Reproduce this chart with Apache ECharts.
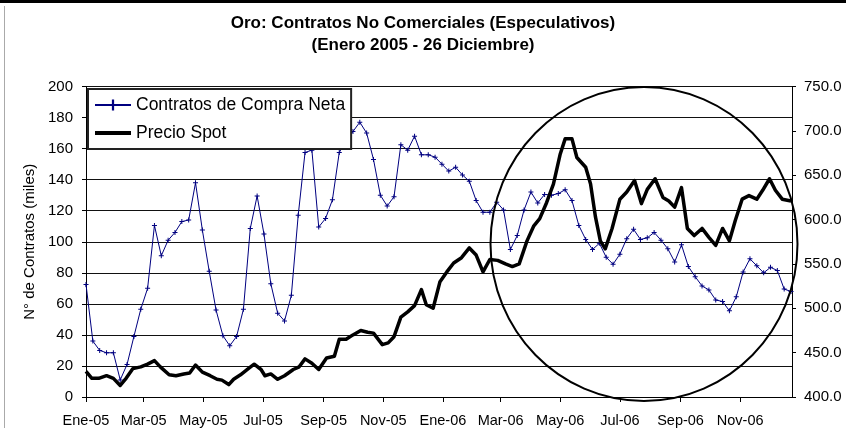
<!DOCTYPE html>
<html>
<head>
<meta charset="utf-8">
<script src="https://cdn.jsdelivr.net/npm/echarts@6/dist/echarts.min.js"></script>
<style>
  html, body { margin: 0; padding: 0; background: #fff; }
  #chart { width: 846px; height: 428px; }
</style>
</head>
<body>
<div id="chart"></div>
<script>
// weekly net long positions (thousands of contracts), one value per week from Jan-05
const compraNeta = [72.5, 36, 30, 28.5, 28.5, 11, 21, 39, 56.5, 70,
  110.5, 91, 101, 106, 113, 114, 138, 107.5, 81, 56,
  39.5, 33, 39, 56.5, 108.5, 129.5, 105, 73, 54, 49,
  65.5, 117, 157.5, 159, 109.5, 115, 127, 157.5, 165, 171,
  177, 170, 153, 130, 123, 129, 162.5, 159, 168, 156,
  156, 154.5, 150, 145.5, 148, 143, 139, 126.5, 119, 119,
  125.5, 120.5, 95, 104, 120.5, 132, 125, 130.5, 130, 131,
  133.5, 126.5, 110.5, 101.5, 95, 99, 90, 85.5, 92, 102,
  108, 101.5, 102.5, 106, 101, 95.5, 87, 98, 84, 77.5,
  71.5, 69, 62.5, 61.5, 55.5, 64.5, 80.5, 89, 84.5, 80,
  83.5, 81.5, 69.5, 68]

// spot price, days counted from 1 Jan 2005
const precioDias = [0, 6, 13, 21, 28, 35, 41, 48, 56, 63, 70, 76, 85, 92, 100, 106, 112, 119, 127, 134,
  139, 146, 151, 158, 166, 172, 179, 183, 189, 196, 203, 212, 218, 224, 231, 238, 246, 254, 259, 266,
  273, 281, 288, 294, 303, 309, 315, 322, 329, 336, 343, 348, 355, 362, 369, 376, 384, 392, 399, 406,
  413, 421, 429, 436, 443, 451, 458, 464, 471, 478, 485, 490, 497, 502, 511, 516, 521, 526, 531, 538,
  546, 553, 561, 568, 574, 582, 590, 596, 602, 609, 615, 622, 630, 637, 644, 651, 658, 664, 671, 678,
  686, 692, 699, 705, 712, 721]
const precioSpot = [429, 421, 421, 424, 421, 413, 421, 432, 434, 437, 441, 434, 425, 424, 426, 427, 436, 428, 424, 420,
  419, 414, 420, 425, 432, 437, 431, 424, 426, 420, 424, 431, 434, 443, 438, 431, 444, 446, 465, 465,
  470, 475, 473, 472, 459, 461, 468, 490, 496, 503, 521, 504, 500, 530, 541, 551, 557, 568, 560, 541,
  555, 554, 550, 547, 550, 576, 593, 601, 619, 640, 674, 691, 691, 670, 659, 640, 603, 576, 567, 590,
  623, 631, 644, 618, 634, 646, 625, 621, 614, 636, 590, 582, 590, 580, 571, 590, 576, 599, 623, 627,
  623, 633, 646, 633, 623, 621]

const mesesDias = [0, 59, 120, 181, 243, 304, 365, 424, 485, 546, 608, 669]
const mesesEtiquetas = ['Ene-05', 'Mar-05', 'May-05', 'Jul-05', 'Sep-05', 'Nov-05',
  'Ene-06', 'Mar-06', 'May-06', 'Jul-06', 'Sep-06', 'Nov-06']

const font = '"Liberation Sans", Arial, sans-serif'
const plus = 'path://M2,0h1v2h2v1h-2v2h-1v-2h-2v-1h2z'

const chart = echarts.init(document.getElementById('chart'))

chart.setOption({
  animation: false,
  backgroundColor: '#fff',
  title: {
    text: 'Oro: Contratos No Comerciales (Especulativos)\n(Enero 2005 - 26 Diciembre)',
    left: 'center',
    top: 12,
    padding: 0,
    textStyle: {
      fontFamily: font,
      fontSize: 17,
      fontWeight: 'bold',
      color: '#000',
      lineHeight: 22
    }
  },
  legend: {
    left: 88,
    top: 89,
    orient: 'vertical',
    padding: [7, 6, 7, 6],
    itemWidth: 36,
    itemHeight: 14,
    itemGap: 10,
    backgroundColor: '#fff',
    borderColor: '#222',
    borderWidth: 2,
    textStyle: {
      fontFamily: font,
      fontSize: 17.5,
      color: '#000'
    },
    data: [
      { name: 'Contratos de Compra Neta' },
      { name: 'Precio Spot', icon: 'path://M0,0h36v4h-36z' }
    ]
  },
  grid: {
    left: 86,
    right: 54,
    top: 86.5,
    bottom: 30
  },
  xAxis: {
    type: 'value',
    min: 0,
    max: 722,
    splitLine: { show: false },
    axisLine: { lineStyle: { color: '#000', width: 1 } },
    axisTick: {
      customValues: mesesDias,
      length: 5,
      lineStyle: { color: '#000' }
    },
    axisLabel: {
      customValues: mesesDias,
      margin: 16,
      fontFamily: font,
      fontSize: 14.5,
      color: '#000',
      formatter: function (v) {
        return mesesEtiquetas[mesesDias.indexOf(v)]
      }
    }
  },
  yAxis: [
    {
      type: 'value',
      min: 0,
      max: 200,
      interval: 20,
      name: 'N° de Contratos (miles)',
      nameLocation: 'middle',
      nameGap: 46,
      nameTextStyle: {
        fontFamily: font,
        fontSize: 15,
        color: '#000'
      },
      axisLine: { show: true, lineStyle: { color: '#000' } },
      axisTick: { show: true, length: 4, lineStyle: { color: '#000' } },
      splitLine: { lineStyle: { color: '#111', width: 1 } },
      axisLabel: {
        margin: 13,
        fontFamily: font,
        fontSize: 15,
        color: '#000'
      }
    },
    {
      type: 'value',
      min: 400,
      max: 750,
      interval: 50,
      position: 'right',
      axisLine: { show: true, lineStyle: { color: '#000' } },
      axisTick: { show: true, length: 4, lineStyle: { color: '#000' } },
      splitLine: { show: false },
      axisLabel: {
        margin: 12,
        fontFamily: font,
        fontSize: 15,
        color: '#000',
        formatter: function (v) { return v.toFixed(1) }
      }
    }
  ],
  series: [
    {
      name: 'Contratos de Compra Neta',
      type: 'line',
      yAxisIndex: 0,
      data: compraNeta.map(function (v, i) { return [i * 7, v] }),
      symbol: plus,
      symbolSize: 5,
      itemStyle: { color: '#000080' },
      lineStyle: { color: '#000080', width: 1 },
      z: 3
    },
    {
      name: 'Precio Spot',
      type: 'line',
      yAxisIndex: 1,
      data: precioDias.map(function (d, i) { return [d, precioSpot[i]] }),
      symbol: 'none',
      itemStyle: { color: '#000' },
      lineStyle: { color: '#000', width: 3.5, join: 'round' },
      z: 4
    }
  ],
  graphic: [
    {
      type: 'rect',
      shape: { x: 0, y: 0, width: 846, height: 3 },
      style: { fill: '#000' },
      silent: true
    },
    {
      type: 'line',
      shape: { x1: 4.5, y1: 6, x2: 4.5, y2: 428 },
      style: { stroke: '#aaa', lineWidth: 1 },
      silent: true
    },
    {
      type: 'ellipse',
      shape: { cx: 644, cy: 244, rx: 153.5, ry: 157 },
      style: { fill: null, stroke: '#000', lineWidth: 2 },
      silent: true,
      z: 100
    }
  ]
})
</script>
</body>
</html>
